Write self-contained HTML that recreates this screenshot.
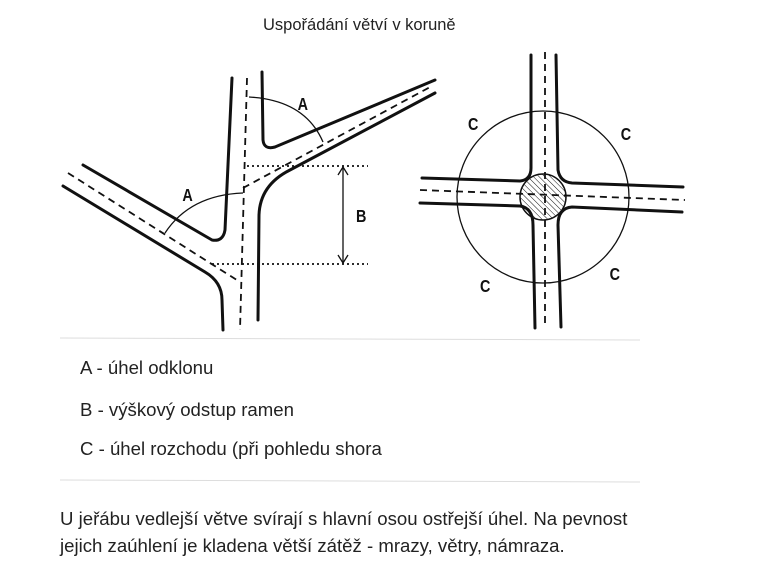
<!DOCTYPE html>
<html><head><meta charset="utf-8"><style>
body{margin:0;width:766px;height:573px;background:#fff;overflow:hidden;font-family:"Liberation Sans",sans-serif;color:#222}
svg{position:absolute;left:0;top:0}
.t{position:absolute;font-size:18.6px;white-space:nowrap}
</style></head><body>
<svg width="766" height="573" viewBox="0 0 766 573">
<g fill="none" stroke="#111" stroke-width="3" stroke-linecap="round">
<path d="M232 78 L225 230 Q223 242 212 240 L83 165"/>
<path d="M63 186 L205 272 Q222 282 222 300 L223 330"/>
<path d="M262 72 L263 140 Q264 150 275 147 L435 80"/>
<path d="M435 93 L290 170 Q260 185 259 215 L258 320"/>
<path d="M531 55 L531 168 Q531 180 520 181 L422 178"/>
<path d="M556 55 L558 170 Q560 182 572 183 L683 187"/>
<path d="M420 203 L520 206 Q533 208 533 225 L535 328"/>
<path d="M682 212 L572 207 Q558 208 558 225 L561 327"/>
</g>
<g fill="none" stroke="#111" stroke-width="1.8" stroke-dasharray="7,5">
<path d="M247 78 L240 330"/>
<path d="M68 173 L240 282"/>
<path d="M243 188 L432 86"/>
<path d="M545 52 L545 328"/>
<path d="M420 190 L685 200"/>
</g>
<g stroke="#111" stroke-width="1.8" stroke-dasharray="2,3">
<path d="M247 166 L368 166"/><path d="M212 264 L368 264"/>
</g>
<g fill="none" stroke="#111" stroke-width="1.3">
<path d="M343 168 L343 262"/>
<path d="M338 175 L343 167 L348 175 M338 255 L343 263 L348 255"/>
<path d="M249 97 Q305 100 323 142"/>
<path d="M243 193 Q190 195 165 233"/>
<circle cx="543" cy="197" r="86"/>
</g>
<defs><pattern id="h" width="4" height="4" patternUnits="userSpaceOnUse" patternTransform="rotate(-45)"><line x1="0" y1="0" x2="0" y2="4" stroke="#111" stroke-width="1"/></pattern></defs>
<circle cx="543" cy="197" r="23" fill="url(#h)" stroke="#111" stroke-width="1.5"/>
<g font-family="Liberation Sans" font-size="18" font-weight="bold" fill="#111" transform="scale(0.8,1)">
<text x="372" y="110">A</text><text x="228" y="201">A</text><text x="445" y="222">B</text>
<text x="585" y="130">C</text><text x="776" y="140">C</text><text x="600" y="292">C</text><text x="762" y="280">C</text>
</g>
<g stroke="#ddd" stroke-width="1"><path d="M60 338 L640 340"/><path d="M60 480 L640 482"/></g>
</svg>
<div class="t" style="left:263px;top:16px;font-size:16.5px">Uspořádání větví v koruně</div>
<div class="t" style="left:80px;top:357px">A - úhel odklonu</div>
<div class="t" style="left:80px;top:399px">B - výškový odstup ramen</div>
<div class="t" style="left:80px;top:438px">C - úhel rozchodu (při pohledu shora</div>
<div class="t" style="left:60px;top:508px">U jeřábu vedlejší větve svírají s hlavní osou ostřejší úhel. Na pevnost</div>
<div class="t" style="left:60px;top:535px">jejich zaúhlení je kladena větší zátěž - mrazy, větry, námraza.</div>
</body></html>
